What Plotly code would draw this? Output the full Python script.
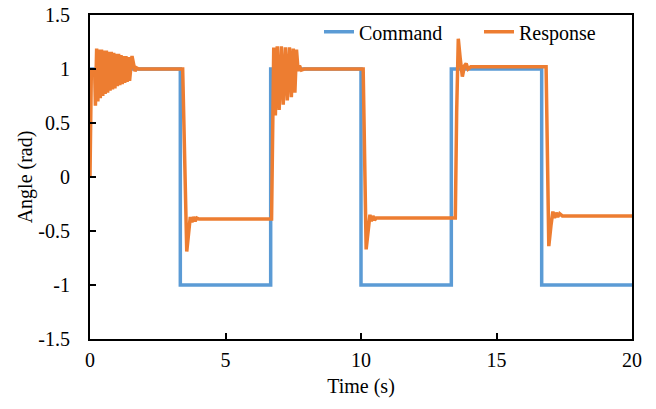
import plotly.graph_objects as go

# Square-wave angle command (rad) over time (s)
cmd_t = [0, 3.333, 3.333, 6.667, 6.667, 10.0, 10.0, 13.333, 13.333, 16.667, 16.667, 20.0]
cmd_v = [1, 1, -1, -1, 1, 1, -1, -1, 1, 1, -1, -1]

# Measured angle response (rad): start-up chatter, then four step transitions
resp_t = [
    0.00, 0.05, 0.12, 0.17,
    0.200, 0.245, 0.290, 0.335, 0.380, 0.425, 0.470, 0.515, 0.560, 0.605,
    0.650, 0.695, 0.740, 0.785, 0.830, 0.875, 0.920, 0.965, 1.010, 1.055,
    1.100, 1.145, 1.190, 1.235, 1.280, 1.325, 1.370, 1.415, 1.460,
    1.55, 1.66, 1.72, 1.80, 3.42,
    3.57, 3.65, 3.70, 3.76, 3.82, 3.88, 3.94, 4.02, 6.70,
    6.78, 6.84, 6.91, 6.98, 7.06, 7.13, 7.21, 7.28, 7.36, 7.43, 7.50,
    7.56, 7.62, 7.68, 7.73, 7.80, 7.90, 10.08,
    10.19, 10.27, 10.33, 10.38, 10.44, 10.50, 10.56, 10.65, 13.48,
    13.53, 13.59, 13.66, 13.74, 13.82, 13.88, 13.95, 14.05, 16.83,
    16.93, 17.01, 17.08, 17.14, 17.20, 17.26, 17.33, 17.43, 20.00,
]
resp_v = [
    0.00, 1.00, 0.95, 1.00,
    0.66, 1.19, 0.70, 1.18, 0.73, 1.18, 0.75, 1.17, 0.77, 1.17,
    0.78, 1.16, 0.80, 1.16, 0.81, 1.15, 0.82, 1.14, 0.84, 1.14,
    0.85, 1.13, 0.86, 1.12, 0.87, 1.12, 0.88, 1.11, 0.89,
    1.12, 0.98, 1.01, 1.00, 1.00,
    -0.69, -0.45, -0.37, -0.42, -0.37, -0.41, -0.38, -0.39, -0.39,
    1.20, 0.57, 1.21, 0.62, 1.21, 0.67, 1.20, 0.71, 1.20, 0.74, 1.19,
    0.78, 1.18, 0.98, 1.03, 0.99, 1.00, 1.00,
    -0.67, -0.45, -0.35, -0.41, -0.36, -0.40, -0.38, -0.38, -0.38,
    0.60, 1.28, 1.10, 0.93, 1.03, 1.05, 1.00, 1.02, 1.02,
    -0.64, -0.45, -0.32, -0.38, -0.33, -0.37, -0.34, -0.36, -0.36,
]

x_ticks = [0, 5, 10, 15, 20]
y_ticks = [-1.5, -1, -0.5, 0, 0.5, 1, 1.5]
y_tick_text = ["-1.5", "-1", "-0.5", "0", "0.5", "1", "1.5"]

FONT = "Liberation Serif, Times New Roman, serif"
FS = 20

fig = go.Figure()
fig.add_trace(go.Scatter(x=cmd_t, y=cmd_v, mode="lines", name="Command",
                         line=dict(color="#5B9BD5", width=3.5)))
fig.add_trace(go.Scatter(x=resp_t, y=resp_v, mode="lines", name="Response",
                         line=dict(color="#ED7D31", width=3.5)))

axis_common = dict(showline=True, linecolor="black", linewidth=2, mirror=True,
                   ticks="inside", ticklen=6, tickwidth=1.5, tickcolor="black",
                   showgrid=False, zeroline=False, automargin=False,
                   tickfont=dict(family=FONT, size=FS, color="black"))

fig.update_xaxes(range=[0, 20], tickvals=x_ticks, ticklabelstandoff=2,
                 title=dict(text="Time (s)", font=dict(family=FONT, size=FS, color="black"), standoff=9),
                 **axis_common)
fig.update_yaxes(range=[-1.5, 1.5], tickvals=y_ticks, ticktext=y_tick_text, ticklabelstandoff=14,
                 title=dict(text="Angle (rad)", font=dict(family=FONT, size=FS, color="black"), standoff=0),
                 **axis_common)

fig.update_layout(
    width=656, height=409,
    margin=dict(l=90, r=24, t=13, b=70),
    paper_bgcolor="white", plot_bgcolor="white",
    font=dict(family=FONT, size=FS, color="black"),
    legend=dict(orientation="h", x=0.4225, y=0.948, xanchor="left", yanchor="middle",
                bgcolor="rgba(0,0,0,0)", font=dict(family=FONT, size=FS, color="black"),
                entrywidth=115, entrywidthmode="pixels"),
    showlegend=True,
)

fig.write_html("out.html")
